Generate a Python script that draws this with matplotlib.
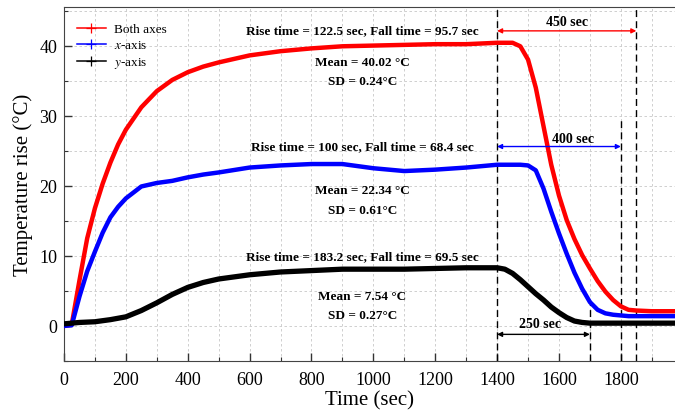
import matplotlib
matplotlib.use("Agg")
import matplotlib.pyplot as plt
from matplotlib.lines import Line2D
from matplotlib.ticker import MultipleLocator

plt.rcParams['font.family'] = ['Liberation Serif', 'DejaVu Serif']
plt.rcParams['mathtext.fontset'] = 'stix'

# time axis (sec)
time = [0, 25, 50, 75, 100, 125, 150, 175, 200, 250, 300, 350, 400, 450, 500,
        600, 700, 800, 900, 1000, 1100, 1200, 1300, 1400, 1425, 1450, 1475,
        1500, 1525, 1550, 1575, 1600, 1625, 1650, 1675, 1700, 1725, 1750,
        1775, 1800, 1825, 1850, 1900, 1975]

# temperature rise (deg C)
both_axes = [0, 0.2, 6.5, 12.5, 16.8, 20.3, 23.3, 25.9, 28.0, 31.2, 33.5, 35.1,
             36.2, 37.0, 37.6, 38.6, 39.2, 39.6, 39.9, 40.0, 40.1, 40.2, 40.2,
             40.4, 40.4, 40.4, 39.9, 38.0, 34.0, 28.5, 23.0, 18.6, 15.1, 12.4,
             10.1, 8.2, 6.4, 4.9, 3.7, 2.8, 2.3, 2.2, 2.1, 2.1]
x_axis = [0, 0.1, 4.2, 7.8, 10.6, 13.3, 15.5, 17.0, 18.2, 19.9, 20.4, 20.7,
          21.2, 21.6, 21.9, 22.6, 22.9, 23.1, 23.1, 22.5, 22.1, 22.3, 22.6,
          23.0, 23.0, 23.0, 23.0, 22.9, 22.2, 19.6, 16.3, 13.2, 10.3, 7.6,
          5.3, 3.4, 2.3, 1.8, 1.6, 1.5, 1.4, 1.4, 1.4, 1.4]
y_axis = [0.3, 0.4, 0.5, 0.55, 0.6, 0.75, 0.9, 1.1, 1.3, 2.2, 3.3, 4.5, 5.5,
          6.2, 6.7, 7.3, 7.7, 7.9, 8.1, 8.1, 8.1, 8.2, 8.3, 8.3, 8.1, 7.5,
          6.6, 5.6, 4.6, 3.7, 2.7, 1.9, 1.2, 0.7, 0.5, 0.4, 0.4, 0.4, 0.4,
          0.4, 0.4, 0.4, 0.4, 0.4]

series_labels = ['Both axes', '$\\it{x}$-axis', '$\\it{y}$-axis']
series_colors = ['#ff0000', '#0000ff', '#000000']
series_widths = [3.2, 3.2, 3.8]

# stats text per series
stat_lines = [
    ('Rise time = 122.5 sec, Fall time = 95.7 sec', 'Mean = 40.02 °C', 'SD = 0.24°C'),
    ('Rise time = 100 sec, Fall time = 68.4 sec', 'Mean = 22.34 °C', 'SD = 0.61°C'),
    ('Rise time = 183.2 sec, Fall time = 69.5 sec', 'Mean = 7.54 °C', 'SD = 0.27°C'),
]
stat_y = [(42.2, 37.7, 34.9), (25.6, 19.4, 16.6), (10.0, 4.3, 1.6)]

# recovery intervals after the stimulus is switched off
off_time = 1400
recovery_end = [1850, 1800, 1700]
arrow_y = [42.1, 25.6, -1.2]
arrow_labels = ['450 sec', '400 sec', '250 sec']
label_x = [1625, 1645, 1540]
label_y = [43.4, 26.8, 0.4]
vline_top = [46, 29.7, 3.7]

fig = plt.figure(figsize=(6.75, 4.14), dpi=100)
ax = fig.add_axes([0.0948, 0.1256, 0.9052, 0.855])

for vals, col, w in zip([both_axes, x_axis, y_axis], series_colors, series_widths):
    ax.plot(time, vals, color=col, lw=w, solid_capstyle='round',
            solid_joinstyle='round', zorder=3)

# dashed markers
dash = (0, (5, 3))
ax.axvline(off_time, color='k', ls=dash, lw=1)
for xe, yt in zip(recovery_end, vline_top):
    ax.plot([xe, xe], [-5, yt], color='k', ls=dash, lw=1)

for xe, ya, col in zip(recovery_end, arrow_y, series_colors):
    ax.annotate('', xy=(xe, ya), xytext=(off_time, ya),
                arrowprops=dict(arrowstyle='<|-|>', color=col, lw=1,
                                mutation_scale=7, shrinkA=0, shrinkB=0))
for lx, ly, lab in zip(label_x, label_y, arrow_labels):
    ax.text(lx, ly, lab, ha='center', va='center', fontsize=10,
            fontweight='bold')

for lines, ys in zip(stat_lines, stat_y):
    for s, yy in zip(lines, ys):
        ax.text(965, yy, s, ha='center', va='center', fontsize=9.5,
                fontweight='bold')

ax.set_xlim(0, 1975)
ax.set_ylim(-5, 45.5)
ax.xaxis.set_major_locator(MultipleLocator(200))
ax.xaxis.set_minor_locator(MultipleLocator(100))
ax.yaxis.set_major_locator(MultipleLocator(10))
ax.yaxis.set_minor_locator(MultipleLocator(5))
ax.tick_params(which='both', direction='in', labelsize=13, top=False,
               right=False, color='#333333')
ax.tick_params(which='major', length=5.5, width=1, pad=7)
ax.tick_params(which='minor', length=3, width=0.8)
ax.tick_params(axis='y', which='major', pad=5)
ax.grid(which='both', color='#c8c8c8', ls=(0, (3, 3)), lw=0.6)
ax.set_axisbelow(True)
ax.spines['right'].set_visible(False)
for sp in ['left', 'bottom', 'top']:
    ax.spines[sp].set_color('#444444')

ax.set_xlabel('Time (sec)', fontsize=15, labelpad=2)
ax.set_ylabel('Temperature rise (°C)', fontsize=15, labelpad=4)

handles = [Line2D([], [], color=c, lw=1.1, marker='+', markersize=7,
                  markeredgewidth=0.9) for c in series_colors]
ax.legend(handles, series_labels, loc='upper left', frameon=False,
          fontsize=9.5, handlelength=2.2, handletextpad=0.6,
          labelspacing=0.3, borderaxespad=0.0, bbox_to_anchor=(0.012, 0.97))

fig.savefig('out.png', dpi=100)
